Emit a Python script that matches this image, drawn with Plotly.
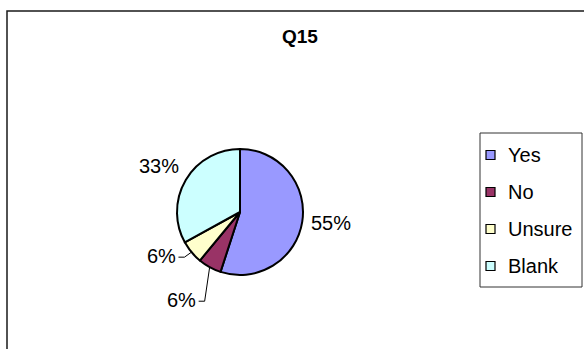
import math
import plotly.graph_objects as go

# Survey answers for question 15
categories = ["Yes", "No", "Unsure", "Blank"]
values = [55, 6, 6, 33]
colors = ["#9999FF", "#993366", "#FFFFCC", "#CCFFFF"]

W, H = 584, 349
FONT = "Liberation Sans, Arial, sans-serif"

# pie placement in pixels
CX, CY, R = 240, 212, 63


def px(x):
    return x / W


def py(y):
    return 1 - y / H


fig = go.Figure(
    go.Pie(
        labels=categories,
        values=values,
        sort=False,
        direction="clockwise",
        rotation=0,
        marker=dict(colors=colors, line=dict(color="black", width=2)),
        textinfo="none",
        hoverinfo="label+percent",
        showlegend=False,
        domain=dict(x=[px(CX - R), px(CX + R)], y=[py(CY + R), py(CY - R)]),
    )
)

total = sum(values)
# label offset from the slice edge (pixels) and whether a leader line is drawn
label_offsets = [(29, 1), (-28, 33), (-30, 4), (-27, -14)]
leaders = [False, True, True, False]

annotations = []
shapes = []
cum = 0
for v, (dx, dy), lead in zip(values, label_offsets, leaders):
    mid = (cum + v / 2) / total * 2 * math.pi
    cum += v
    ex = CX + R * math.sin(mid)
    ey = CY - R * math.cos(mid)
    lx, ly = ex + dx, ey + dy
    annotations.append(dict(
        x=px(lx), y=py(ly), xref="paper", yref="paper",
        text=f"{round(100 * v / total)}%", showarrow=False,
        xanchor="center", yanchor="middle",
        font=dict(family=FONT, size=20, color="black"),
    ))
    if lead:
        x0, y0 = lx + 17, ly + 1
        x1 = x0 + 6
        shapes.append(dict(
            type="path", xref="paper", yref="paper",
            path=f"M {px(x0)},{py(y0)} L {px(x1)},{py(y0)} L {px(ex)},{py(ey)}",
            line=dict(color="black", width=1),
        ))

# chart title
annotations.append(dict(
    x=px(300), y=py(36), xref="paper", yref="paper", text="<b>Q15</b>",
    showarrow=False, xanchor="center", yanchor="middle",
    font=dict(family=FONT, size=19, color="black"),
))

# chart area frame
shapes.append(dict(
    type="rect", xref="paper", yref="paper",
    x0=px(7), x1=px(610), y0=py(11), y1=py(370),
    line=dict(color="#1a1a1a", width=1.5), fillcolor="rgba(0,0,0,0)",
))

# legend box
LX0, LX1, LY0, LY1 = 480, 582, 133, 287
shapes.append(dict(
    type="rect", xref="paper", yref="paper",
    x0=px(LX0), x1=px(LX1), y0=py(LY1), y1=py(LY0),
    line=dict(color="#333333", width=1), fillcolor="white",
))
for i, (name, col) in enumerate(zip(categories, colors)):
    iy = 155 + 37 * i
    shapes.append(dict(
        type="rect", xref="paper", yref="paper",
        x0=px(486), x1=px(495), y0=py(iy + 4.5), y1=py(iy - 4.5),
        line=dict(color="black", width=1.2), fillcolor=col,
    ))
    annotations.append(dict(
        x=px(506), y=py(iy), xref="paper", yref="paper", text=name,
        showarrow=False, xanchor="left", yanchor="middle",
        font=dict(family=FONT, size=20, color="black"),
    ))

fig.update_layout(
    width=W, height=H,
    margin=dict(l=0, r=0, t=0, b=0),
    paper_bgcolor="white", plot_bgcolor="white",
    annotations=annotations, shapes=shapes,
)

fig.write_html("out.html")
